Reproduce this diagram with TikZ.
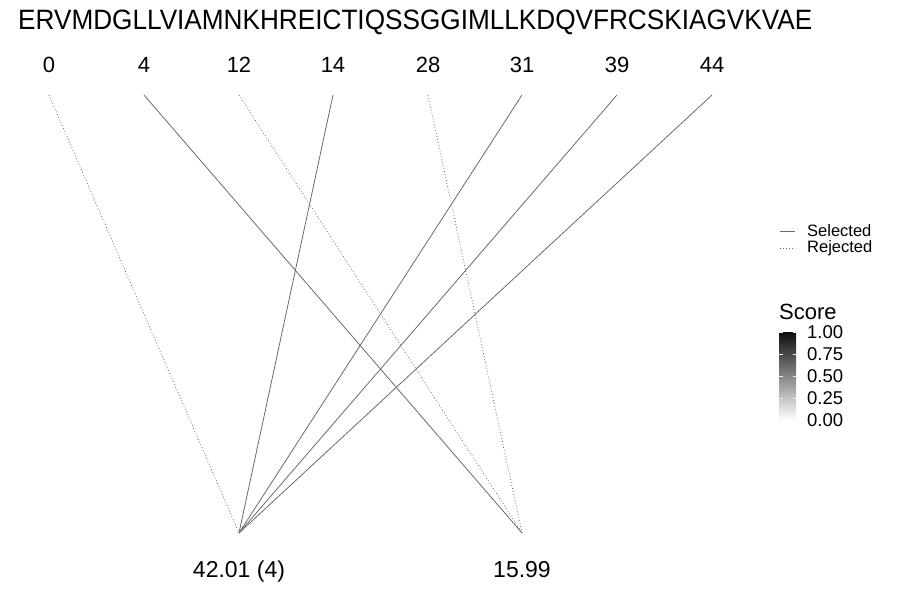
\documentclass[tikz,border=0pt]{standalone}
\usepackage{fontspec}
\setmainfont{Liberation Sans}
\definecolor{linegray}{HTML}{6A6A6A}
\begin{document}
\begin{tikzpicture}[x=1pt,y=-1pt,
  lab/.style={inner sep=0pt,anchor=base,font=\fontsize{22}{22}\selectfont},
  sel/.style={draw=linegray,line width=0.8pt},
  rej/.style={draw=linegray,line width=0.8pt,dash pattern=on 0.8pt off 2.2pt},
  leg/.style={inner sep=0pt,anchor=west,font=\fontsize{16.5}{16.5}\selectfont},
  tick/.style={inner sep=0pt,anchor=west,font=\fontsize{18.5}{18.5}\selectfont}]
\useasboundingbox (0,0) rectangle (900,600);
\node[inner sep=0pt,anchor=west] (seq) at (18,22) {\resizebox{794pt}{\height}{\fontsize{28}{28}\selectfont ERVMDGLLVIAMNKHREICTIQSSGGIMLLKDQVFRCSKIAGVKVAE}};
\foreach \n/\x in {0/49,4/144,12/239,14/333,28/428,31/522,39/617,44/712}{
  \node[lab] (t\n) at (\x,72) {\n};
  \coordinate (p\n) at (\x,95);
}
\coordinate (bA) at (239,533);
\coordinate (bB) at (522,533);
\node[lab,font=\fontsize{23}{23}\selectfont] (lA) at (239,577) {42.01 (4)};
\node[lab,font=\fontsize{23}{23}\selectfont] (lB) at (522,577) {15.99};
\draw[rej] (p0) -- (bA);
\draw[sel] (p4) -- (bB);
\draw[rej] (p12) -- (bB);
\draw[sel] (p14) -- (bA);
\draw[rej] (p28) -- (bB);
\draw[sel] (p31) -- (bA);
\draw[sel] (p39) -- (bA);
\draw[sel] (p44) -- (bA);
% legend
\coordinate (ls1) at (780,231);
\coordinate (ls2) at (795,231);
\coordinate (lr1) at (780,248);
\coordinate (lr2) at (795,248);
\draw[sel] (ls1) -- (ls2);
\draw[rej] (lr1) -- (lr2);
\node[leg] (legS) at (807,231) {Selected};
\node[leg] (legR) at (807,248) {Rejected};
% colorbar
\node[inner sep=0pt,anchor=west,font=\fontsize{22}{22}\selectfont] (sc) at (779,312) {Score};
\shade[top color=black!95,bottom color=white] (779,332) rectangle (796,420);
\foreach \v/\y in {1.00/332,0.75/354,0.50/376,0.25/398,0.00/420}{
  \node[tick] (c\y) at (807,\y) {\v};
  \draw[white!85!gray,line width=0.5pt] (779,\y) -- (782.5,\y) (792.5,\y) -- (796,\y);
}
\end{tikzpicture}
\end{document}
